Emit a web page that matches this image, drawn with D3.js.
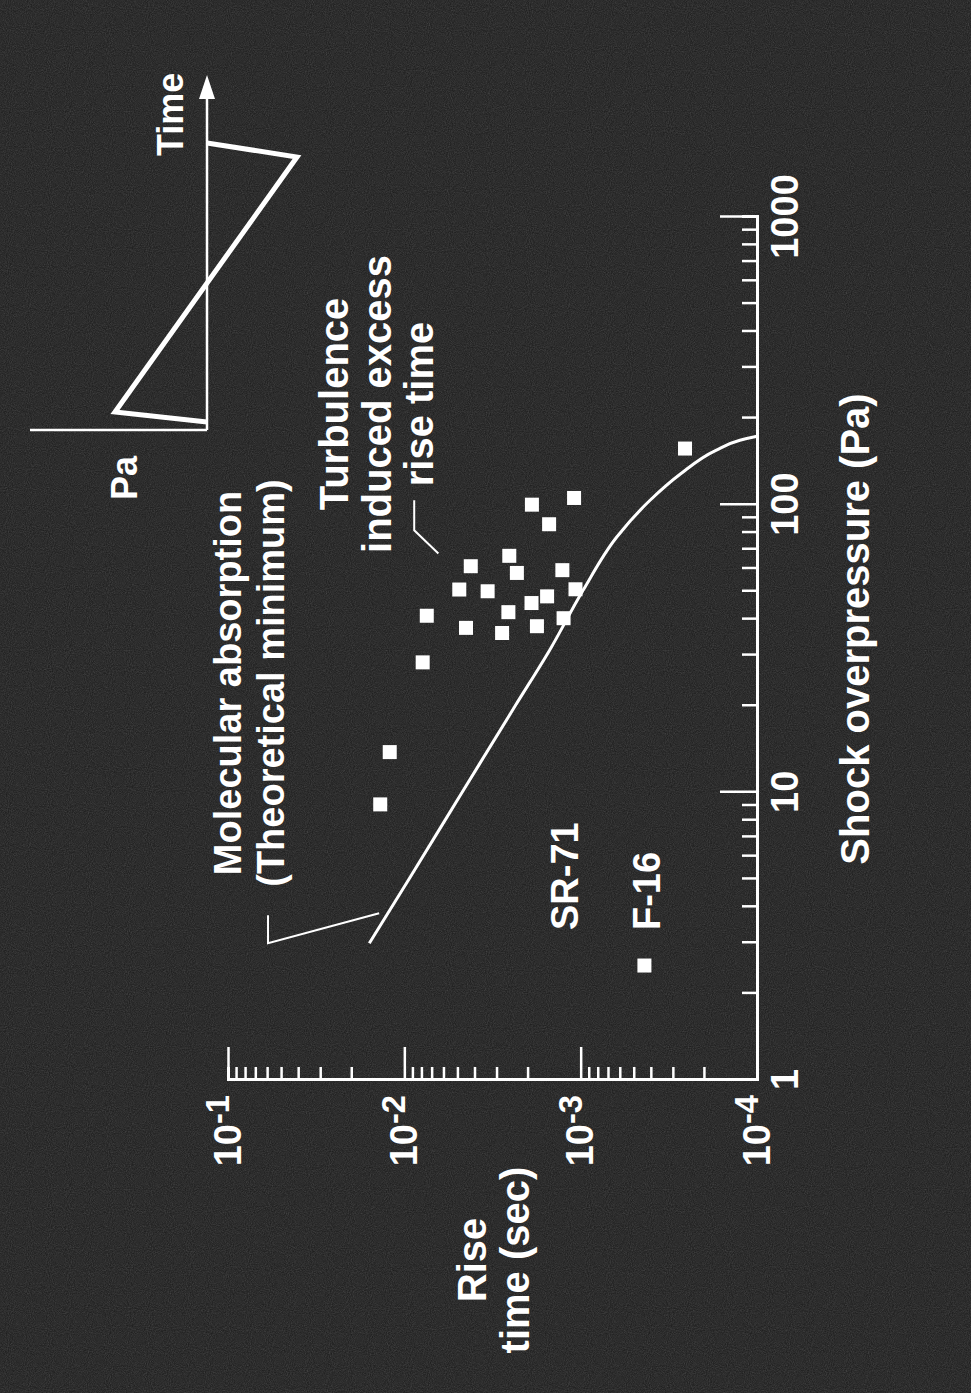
<!DOCTYPE html>
<html>
<head>
<meta charset="utf-8">
<script src="https://cdn.jsdelivr.net/npm/d3@7"></script>
<style>
  body { margin: 0; background: #1a1a1a; }
  svg text { font-family: "Liberation Sans", Arial, Helvetica, sans-serif; font-weight: bold; fill: #fff; }
</style>
</head>
<body>
<svg id="chart" width="971" height="1393"></svg>
<script>
// values (chart is printed rotated 90deg)
const pressure = [156.7, 105.5, 100, 85.5, 66.4, 61.1, 57.9, 59.2, 50.7, 50.0, 50.8, 42.3, 40.3, 41.1, 37.3, 35.8, 37.8, 28.3, 13.8, 9.08, 2.5, 45.5, 48];
const riseTime = [2.56e-4, 1.09e-3, 1.89e-3, 1.51e-3, 2.54e-3, 4.2e-3, 2.3e-3, 1.27e-3, 4.88e-3, 3.37e-3, 1.07e-3, 2.57e-3, 1.25e-3, 7.46e-3, 4.47e-3, 2.79e-3, 1.77e-3, 7.87e-3, 1.21e-2, 1.37e-2, 4.35e-4, 1.9e-3, 1.55e-3];

// molecular absorption (theoretical minimum) curve
const curvePressure = [2.99, 5, 10, 20, 31.2, 50.4, 77.2, 103.6, 127.5, 154.5, 167.4, 172.9];
const curveRise = [0.0158, 0.0094, 0.0047, 0.00235, 0.0015, 9.69e-4, 6.24e-4, 4.04e-4, 2.73e-4, 1.71e-4, 1.25e-4, 1e-4];

const xTickLabels = [1, 10, 100, 1000];
const yTickValues = [1e-1, 1e-2, 1e-3, 1e-4];
const yTickExponents = ['-1', '-2', '-3', '-4'];

const W = 971, H = 1393;
const svg = d3.select('#chart');

// grainy photo background
const defs = svg.append('defs');
const grain = defs.append('filter').attr('id', 'grain').attr('x', 0).attr('y', 0).attr('width', '100%').attr('height', '100%');
grain.append('feTurbulence').attr('type', 'fractalNoise').attr('baseFrequency', 0.95).attr('numOctaves', 2).attr('seed', 4);
grain.append('feColorMatrix').attr('type', 'saturate').attr('values', 0);
svg.append('rect').attr('width', W).attr('height', H).attr('fill', '#1a1a1a');
svg.append('rect').attr('width', W).attr('height', H).attr('filter', 'url(#grain)').attr('opacity', 0.24);

// whole figure drawn upright then turned a quarter left
const g = svg.append('g').attr('transform', `translate(0,${H}) rotate(-90)`);

const x = d3.scaleLog().domain([1, 1000]).range([313, 1176]);
const y = d3.scaleLog().domain([1e-4, 1e-1]).range([757, 228]);
const isMajor = d => Math.abs(Math.log10(d) - Math.round(Math.log10(d))) < 1e-6;

// x axis (shock overpressure)
const xAxis = g.append('g')
  .attr('transform', `translate(0,${y(1e-4)})`)
  .style('color', '#fff')
  .call(d3.axisBottom(x)
    .tickValues(x.ticks())
    .tickSizeOuter(0)
    .tickSize(-15)
    .tickPadding(14)
    .tickFormat(d => xTickLabels.includes(d) ? d : ''))
  .attr('font-size', null).attr('font-family', null);
xAxis.select('.domain').attr('stroke-width', 3);
xAxis.selectAll('.tick line').attr('y2', d => isMajor(d) ? -37 : -15).attr('stroke-width', 2.5);
xAxis.selectAll('.tick text').attr('font-size', 38);

// y axis (rise time)
const yAxis = g.append('g')
  .attr('transform', `translate(${x(1)},0)`)
  .style('color', '#fff')
  .call(d3.axisLeft(y)
    .tickValues(y.ticks())
    .tickSizeOuter(0)
    .tickSize(-13)
    .tickPadding(15)
    .tickFormat(''))
  .attr('font-size', null).attr('font-family', null);
yAxis.select('.domain').attr('stroke-width', 3);
yAxis.selectAll('.tick line').attr('x2', d => isMajor(d) ? 33 : 13).attr('stroke-width', 2.5);
yAxis.selectAll('.tick text')
  .attr('font-size', 38)
  .each(function (d) {
    const i = yTickValues.findIndex(v => Math.abs(v - d) / v < 1e-6);
    if (i < 0) return;
    const t = d3.select(this);
    t.append('tspan').text('10');
    t.append('tspan').attr('dy', '-0.36em').attr('font-size', '0.86em').text(yTickExponents[i]);
  });

// axis titles
g.append('text')
  .attr('x', 764).attr('y', 869)
  .attr('text-anchor', 'middle').attr('font-size', 40)
  .text('Shock overpressure (Pa)');
const yt = g.append('text').attr('text-anchor', 'middle').attr('font-size', 40);
yt.append('tspan').attr('x', 133).attr('y', 486).text('Rise');
yt.append('tspan').attr('x', 133).attr('y', 529).text('time (sec)');

// theoretical curve
const line = d3.line()
  .x(d => x(d[0]))
  .y(d => y(d[1]))
  .curve(d3.curveMonotoneX);
g.append('path')
  .datum(d3.zip(curvePressure, curveRise))
  .attr('d', line)
  .attr('fill', 'none')
  .attr('stroke', '#fff')
  .attr('stroke-width', 3);

// measured points
const sq = 14;
g.selectAll('rect.pt')
  .data(d3.zip(pressure, riseTime))
  .join('rect')
  .attr('class', 'pt')
  .attr('x', d => x(d[0]) - sq / 2)
  .attr('y', d => y(d[1]) - sq / 2)
  .attr('width', sq)
  .attr('height', sq)
  .attr('fill', '#fff');

// annotations
const lead = d3.line().x(d => x(d[0])).y(d => y(d[1]));
g.append('path')
  .attr('d', lead([[3.74, 0.0593], [2.99, 0.0593], [3.8, 0.0139]]))
  .attr('fill', 'none').attr('stroke', '#fff').attr('stroke-width', 2);
g.append('path')
  .attr('d', lead([[103.6, 0.00879], [81.5, 0.00879], [67.6, 0.00641]]))
  .attr('fill', 'none').attr('stroke', '#fff').attr('stroke-width', 2);

const mol = g.append('text').attr('text-anchor', 'middle').attr('font-size', 38);
mol.append('tspan').attr('x', 710).attr('y', 241).text('Molecular absorption');
mol.append('tspan').attr('x', 710).attr('y', 284).text('(Theoretical minimum)');

const tur = g.append('text').attr('text-anchor', 'middle').attr('font-size', 40);
tur.append('tspan').attr('x', 989).attr('y', 348).text('Turbulence');
tur.append('tspan').attr('x', 989).attr('y', 391).text('induced excess');
tur.append('tspan').attr('x', 989).attr('y', 433).text('rise time');

g.append('text').attr('x', 463).attr('y', 578).attr('font-size', 38).text('SR-71');
g.append('text').attr('x', 463).attr('y', 660).attr('font-size', 38).text('F-16');

// N-wave inset
const inset = g.append('g');
inset.append('line').attr('x1', 963).attr('y1', 207).attr('x2', 1300).attr('y2', 207)
  .attr('stroke', '#fff').attr('stroke-width', 2.5);
inset.append('path').attr('d', 'M1318,207 L1294,199 L1294,215 Z').attr('fill', '#fff');
inset.append('line').attr('x1', 963).attr('y1', 30).attr('x2', 963).attr('y2', 207)
  .attr('stroke', '#fff').attr('stroke-width', 2.5);
inset.append('path')
  .attr('d', 'M971,207 L981,115 L1236,297 L1250,207')
  .attr('fill', 'none').attr('stroke', '#fff').attr('stroke-width', 5).attr('stroke-linejoin', 'miter');
inset.append('text').attr('x', 893).attr('y', 137).attr('font-size', 36).text('Pa');
inset.append('text').attr('x', 1237).attr('y', 183).attr('font-size', 36).text('Time');
</script>
</body>
</html>
